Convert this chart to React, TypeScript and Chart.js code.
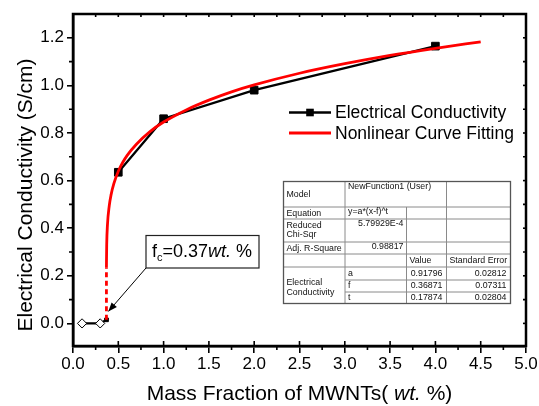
import React, { useEffect, useRef } from "react";
import { Chart, registerables } from "chart.js";

Chart.register(...registerables);

// ---- data ----
// measured conductivity below / at the percolation threshold (open diamonds)
const LOW_X = [0.1, 0.3, 0.37];
const LOW_Y = [0, 0, 0.015];
// measured conductivity above the threshold (filled squares)
const EC_X = [0.5, 1.0, 2.0, 4.0];
const EC_Y = [0.635, 0.86, 0.98, 1.165];

const FIT_X = [0.369, 0.3695, 0.372, 0.38, 0.4, 0.42, 0.45, 0.5, 0.55, 0.6, 0.7, 0.85, 1.0, 1.25, 1.5, 1.75, 2.0, 2.5, 3.0, 3.5, 4.0, 4.5];
const FIT_Y = [0.234, 0.256, 0.33, 0.412, 0.494, 0.54, 0.586, 0.639, 0.677, 0.707, 0.753, 0.806, 0.846, 0.897, 0.938, 0.973, 1.002, 1.051, 1.091, 1.126, 1.156, 1.183];

const FIT_DASH_X = [0.369, 0.369];
const FIT_DASH_Y = [0.015, 0.234];

const FC = 0.37;

const X_TICKS = [0, 0.5, 1.0, 1.5, 2.0, 2.5, 3.0, 3.5, 4.0, 4.5, 5.0];
const Y_TICKS = [0, 0.2, 0.4, 0.6, 0.8, 1.0, 1.2];

const LEGEND_LABELS = ["Electrical Conductivity", "Nonlinear Curve Fitting"];
const X_TITLE = ["Mass Fraction of MWNTs( ", "wt.", " %)"];
const Y_TITLE = "Electrical Conductivity (S/cm)";
const ANNOT = ["f", "c", "=0.37", "wt.", " %"];

const TABLE_MODEL = "NewFunction1 (User)";
const TABLE_EQUATION = "y=a*(x-f)^t";
const TABLE_CHISQR = "5.79929E-4";
const TABLE_R2 = "0.98817";
const TABLE_PARAMS = ["a", "f", "t"];
const TABLE_VALUES = ["0.91796", "0.36871", "0.17874"];
const TABLE_ERRORS = ["0.02812", "0.07311", "0.02804"];

const FONT = '"Liberation Sans", Arial, Helvetica, sans-serif';

const decorPlugin = {
  id: "decor",
  afterDraw(chart: any) {
    const { ctx, chartArea: a, scales } = chart;
    const xs = scales.x;
    const ys = scales.y;
    ctx.save();

    // frame
    ctx.strokeStyle = "#000";
    ctx.lineWidth = 2.5;
    ctx.strokeRect(a.left, a.top, a.right - a.left, a.bottom - a.top);

    // x ticks (minor outward, major inward part, top inward)
    ctx.lineWidth = 1.6;
    for (let i = 0; i <= 20; i++) {
      const px = xs.getPixelForValue(i * 0.25);
      ctx.beginPath();
      if (i % 2 === 0) {
        ctx.moveTo(px, a.bottom);
        ctx.lineTo(px, a.bottom - 5);
      } else {
        ctx.moveTo(px, a.bottom);
        ctx.lineTo(px, a.bottom + 4);
      }
      ctx.moveTo(px, a.top);
      ctx.lineTo(px, a.top + 3);
      ctx.stroke();
    }
    // y ticks
    for (let i = 0; i <= 12; i++) {
      const py = ys.getPixelForValue(i * 0.1);
      ctx.beginPath();
      if (i % 2 === 1) {
        ctx.moveTo(a.left, py);
        ctx.lineTo(a.left - 4, py);
      }
      ctx.moveTo(a.right, py);
      ctx.lineTo(a.right - 3, py);
      ctx.stroke();
    }

    // x title with italic part
    ctx.fillStyle = "#000";
    ctx.textBaseline = "alphabetic";
    const fN = `21px ${FONT}`;
    const fI = `italic 21px ${FONT}`;
    const segs: [string, string][] = [
      [X_TITLE[0], fN],
      [X_TITLE[1], fI],
      [X_TITLE[2], fN],
    ];
    let total = 0;
    for (const [t, f] of segs) {
      ctx.font = f;
      total += ctx.measureText(t).width;
    }
    let cx = (a.left + a.right) / 2 - total / 2;
    for (const [t, f] of segs) {
      ctx.font = f;
      ctx.textAlign = "left";
      ctx.fillText(t, cx, 400);
      cx += ctx.measureText(t).width;
    }

    // y title
    ctx.save();
    ctx.translate(26, 195);
    ctx.rotate(-Math.PI / 2);
    ctx.font = `21px ${FONT}`;
    ctx.textAlign = "center";
    ctx.textBaseline = "middle";
    ctx.fillText(Y_TITLE, 0, 0);
    ctx.restore();

    // legend
    const lgX = 289;
    const lgRows = [112.5, 133];
    const lgColors = ["#000", "#ff0000"];
    for (let r = 0; r < 2; r++) {
      const y = lgRows[r];
      ctx.strokeStyle = lgColors[r];
      ctx.lineWidth = r === 0 ? 2.4 : 2.8;
      ctx.beginPath();
      ctx.moveTo(lgX, y);
      ctx.lineTo(lgX + 42, y);
      ctx.stroke();
      if (r === 0) {
        ctx.fillStyle = "#000";
        ctx.fillRect(lgX + 21 - 3.8, y - 3.8, 7.6, 7.6);
      }
      ctx.fillStyle = "#000";
      ctx.font = `17.5px ${FONT}`;
      ctx.textAlign = "left";
      ctx.textBaseline = "middle";
      ctx.fillText(LEGEND_LABELS[r], lgX + 46, y + 1);
    }

    // annotation box + arrow
    const bx0 = 146, by0 = 235.5, bx1 = 259, by1 = 268;
    ctx.fillStyle = "#fff";
    ctx.fillRect(bx0, by0, bx1 - bx0, by1 - by0);
    ctx.strokeStyle = "#222";
    ctx.lineWidth = 1.2;
    ctx.strokeRect(bx0, by0, bx1 - bx0, by1 - by0);
    ctx.fillStyle = "#000";
    ctx.textBaseline = "alphabetic";
    ctx.textAlign = "left";
    let tx = 152;
    const base = 257;
    ctx.font = `18px ${FONT}`;
    ctx.fillText(ANNOT[0], tx, base);
    tx += ctx.measureText(ANNOT[0]).width;
    ctx.font = `11px ${FONT}`;
    ctx.fillText(ANNOT[1], tx, base + 4);
    tx += ctx.measureText(ANNOT[1]).width;
    ctx.font = `18px ${FONT}`;
    ctx.fillText(ANNOT[2], tx, base);
    tx += ctx.measureText(ANNOT[2]).width;
    ctx.font = `italic 18px ${FONT}`;
    ctx.fillText(ANNOT[3], tx, base);
    tx += ctx.measureText(ANNOT[3]).width;
    ctx.font = `18px ${FONT}`;
    ctx.fillText(ANNOT[4], tx, base);

    const ax0 = bx0, ay0 = by1;
    const ax1 = xs.getPixelForValue(0.39), ay1 = ys.getPixelForValue(0.05);
    ctx.strokeStyle = "#000";
    ctx.lineWidth = 1;
    ctx.beginPath();
    ctx.moveTo(ax0, ay0);
    ctx.lineTo(ax1, ay1);
    ctx.stroke();
    const ang = Math.atan2(ay1 - ay0, ax1 - ax0);
    const hl = 9, hw = 3.5;
    ctx.beginPath();
    ctx.moveTo(ax1, ay1);
    ctx.lineTo(ax1 - hl * Math.cos(ang) + hw * Math.sin(ang), ay1 - hl * Math.sin(ang) - hw * Math.cos(ang));
    ctx.lineTo(ax1 - hl * Math.cos(ang) - hw * Math.sin(ang), ay1 - hl * Math.sin(ang) + hw * Math.cos(ang));
    ctx.closePath();
    ctx.fillStyle = "#000";
    ctx.fill();

    // table
    const cols = [283.5, 345, 406.5, 446.5, 510.5];
    const rows = [181.5, 207, 219, 242, 254, 267, 280, 292, 303.5];
    ctx.fillStyle = "#fff";
    ctx.fillRect(cols[0], rows[0], cols[4] - cols[0], rows[8] - rows[0]);
    ctx.strokeStyle = "#8a8a8a";
    ctx.lineWidth = 1;
    const hline = (y: number, x0: number, x1: number) => {
      ctx.beginPath();
      ctx.moveTo(x0, y);
      ctx.lineTo(x1, y);
      ctx.stroke();
    };
    const vline = (x: number, y0: number, y1: number) => {
      ctx.beginPath();
      ctx.moveTo(x, y0);
      ctx.lineTo(x, y1);
      ctx.stroke();
    };
    for (let r = 1; r <= 5; r++) hline(rows[r], cols[0], cols[4]);
    hline(rows[6], cols[1], cols[4]);
    hline(rows[7], cols[1], cols[4]);
    vline(cols[1], rows[0], rows[8]);
    vline(cols[2], rows[1], rows[8]);
    vline(cols[3], rows[0], rows[8]);
    ctx.strokeStyle = "#555";
    ctx.lineWidth = 1.3;
    ctx.strokeRect(cols[0], rows[0], cols[4] - cols[0], rows[8] - rows[0]);

    ctx.fillStyle = "#111";
    ctx.font = `8.8px ${FONT}`;
    ctx.textBaseline = "middle";
    const L = (t: string, x: number, y: number) => {
      ctx.textAlign = "left";
      ctx.fillText(t, x, y);
    };
    const R = (t: string, x: number, y: number) => {
      ctx.textAlign = "right";
      ctx.fillText(t, x, y);
    };
    L("Model", cols[0] + 3, 195);
    L(TABLE_MODEL, cols[1] + 3, 187);
    L("Equation", cols[0] + 3, 213.5);
    L(TABLE_EQUATION, cols[1] + 3, 211.5);
    L("Reduced", cols[0] + 3, 225.5);
    L("Chi-Sqr", cols[0] + 3, 235);
    R(TABLE_CHISQR, cols[2] - 3, 224);
    L("Adj. R-Square", cols[0] + 3, 248.5);
    R(TABLE_R2, cols[2] - 3, 247);
    L("Value", cols[2] + 3, 261);
    L("Standard Error", cols[3] + 3, 261);
    L("Electrical", cols[0] + 3, 283);
    L("Conductivity", cols[0] + 3, 292.5);
    const prow = [273.5, 286, 298];
    for (let i = 0; i < 3; i++) {
      L(TABLE_PARAMS[i], cols[1] + 3, prow[i]);
      R(TABLE_VALUES[i], cols[3] - 4, prow[i]);
      R(TABLE_ERRORS[i], cols[4] - 4, prow[i]);
    }

    ctx.restore();
  },
};

export default function App() {
  const ref = useRef<HTMLCanvasElement | null>(null);

  useEffect(() => {
    if (!ref.current) return;
    Chart.defaults.font.family = FONT;
    const lowData = LOW_X.map((x, i) => ({ x, y: LOW_Y[i] }));
    const ecData = EC_X.map((x, i) => ({ x, y: EC_Y[i] }));
    const fitData = FIT_X.map((x, i) => ({ x, y: FIT_Y[i] }));
    const dashData = FIT_DASH_X.map((x, i) => ({ x, y: FIT_DASH_Y[i] }));

    const chart = new Chart(ref.current, {
      type: "line",
      data: {
        datasets: [
          {
            label: "Nonlinear Curve Fitting",
            data: fitData,
            borderColor: "#ff0000",
            borderWidth: 2.8,
            pointRadius: 0,
            cubicInterpolationMode: "monotone",
            fill: false,
          },
          {
            label: "fit (dashed)",
            data: dashData,
            borderColor: "#ff0000",
            borderWidth: 2.8,
            borderDash: [5, 3.5],
            pointRadius: 0,
            fill: false,
          },
          {
            label: "Electrical Conductivity (below threshold)",
            data: lowData,
            borderColor: "#000",
            borderWidth: 2.3,
            pointStyle: (c: any) => (c.raw && c.raw.x < FC - 0.001 ? "rectRot" : "rect"),
            pointRadius: (c: any) => (c.raw && c.raw.x < FC - 0.001 ? 4.6 : 2.6),
            pointBackgroundColor: (c: any) => (c.raw && c.raw.x < FC - 0.001 ? "#fff" : "#000"),
            pointBorderColor: "#000",
            pointBorderWidth: 1,
            tension: 0,
            fill: false,
          },
          {
            label: "Electrical Conductivity",
            data: ecData,
            borderColor: "#000",
            borderWidth: 2.3,
            pointStyle: "rect",
            pointRadius: 5.4,
            pointBackgroundColor: "#000",
            pointBorderColor: "#000",
            pointBorderWidth: 1,
            tension: 0,
            fill: false,
          },
        ],
      },
      options: {
        animation: false,
        responsive: true,
        maintainAspectRatio: false,
        layout: { padding: { top: 14, right: 13, left: 0, bottom: 0 } },
        plugins: {
          legend: { display: false },
          tooltip: { enabled: false },
          title: { display: false },
        },
        scales: {
          x: {
            type: "linear",
            min: 0,
            max: 5,
            afterFit: (s: any) => {
              s.height = 60;
            },
            afterBuildTicks: (s: any) => {
              s.ticks = X_TICKS.map((v) => ({ value: v }));
            },
            ticks: {
              color: "#000",
              font: { size: 17, family: FONT },
              padding: 1,
              maxRotation: 0,
              autoSkip: false,
              callback: (v: any) => Number(v).toFixed(1),
            },
            grid: {
              display: true,
              drawOnChartArea: false,
              drawTicks: true,
              tickLength: 7,
              color: "#000",
              lineWidth: 1.6,
            },
            border: { display: true, color: "#000", width: 2.5 },
          },
          y: {
            type: "linear",
            min: -0.095,
            max: 1.3,
            afterFit: (s: any) => {
              s.width = 73;
            },
            afterBuildTicks: (s: any) => {
              s.ticks = Y_TICKS.map((v) => ({ value: v }));
            },
            ticks: {
              color: "#000",
              font: { size: 17, family: FONT },
              padding: 3,
              autoSkip: false,
              callback: (v: any) => Number(v).toFixed(1),
            },
            grid: {
              display: true,
              drawOnChartArea: false,
              drawTicks: true,
              tickLength: 6,
              color: "#000",
              lineWidth: 1.6,
            },
            border: { display: true, color: "#000", width: 2.5 },
          },
        },
      },
      plugins: [decorPlugin],
    });
    return () => chart.destroy();
  }, []);

  return (
    <div style={{ position: "absolute", left: 0, top: 0, width: 539, height: 406, background: "#fff" }}>
      <canvas ref={ref} />
    </div>
  );
}
